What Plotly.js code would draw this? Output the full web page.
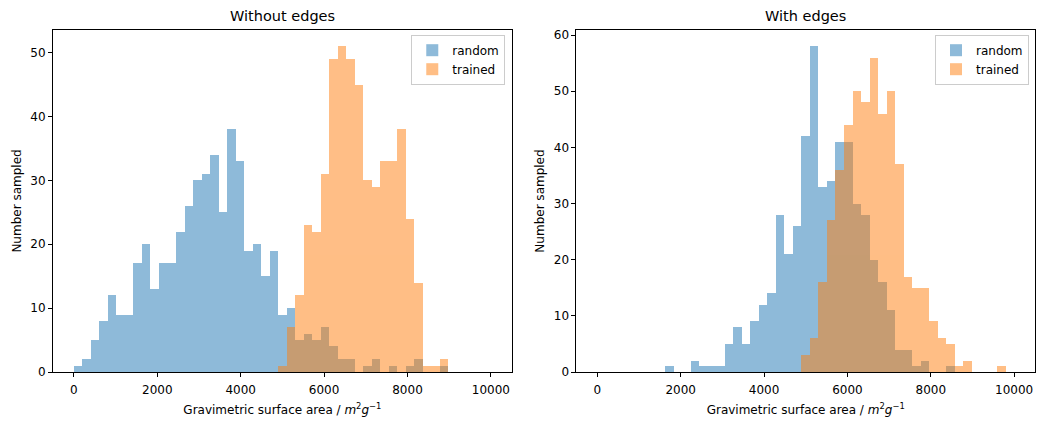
<!DOCTYPE html>
<html>
<head>
<meta charset="utf-8">
<script src="https://cdn.plot.ly/plotly-3.0.1.min.js"></script>
<style>
  html, body { margin: 0; padding: 0; background: #fff; }
  #chart { width: 1039px; height: 421px; }
</style>
</head>
<body>
<div id="chart"></div>
<script>
// ---- data (counts per histogram bin, 49 equal bins spanning 0..10000) ----
const binStart = 0;
const binEnd = 10000;
const binCount = 49;

const noEdgesRandom = [1, 2, 5, 8, 12, 9, 9, 17, 20, 13, 17, 17, 22, 26, 30, 31, 34, 25, 38, 33,
  19, 20, 15, 19, 9, 10, 5, 6, 5, 7, 4, 2, 2, 0, 1, 2, 0, 1, 0, 1, 2, 0, 0, 1, 0, 0, 0, 0, 0];
const noEdgesTrained = [0, 0, 0, 0, 0, 0, 0, 0, 0, 0, 0, 0, 0, 0, 0, 0, 0, 0, 0, 0,
  0, 0, 0, 0, 1, 7, 12, 23, 22, 31, 49, 51, 49, 45, 30, 29, 33, 33, 38, 24, 14, 1, 1, 2, 0, 0, 0, 0, 0];
const edgesRandom = [0, 0, 0, 0, 0, 0, 0, 0, 1, 0, 0, 2, 1, 1, 1, 5, 8, 5, 9, 12,
  14, 28, 21, 26, 42, 58, 33, 34, 41, 41, 30, 28, 20, 16, 11, 4, 4, 1, 2, 0, 0, 1, 0, 0, 0, 0, 0, 0, 0];
const edgesTrained = [0, 0, 0, 0, 0, 0, 0, 0, 0, 0, 0, 0, 0, 0, 0, 0, 0, 0, 0, 0,
  0, 0, 0, 0, 3, 6, 16, 27, 36, 44, 50, 48, 56, 46, 50, 37, 17, 15, 15, 9, 6, 5, 1, 2, 0, 0, 0, 1, 0];

const seriesNames = ["random", "trained"];
const panelTitles = ["Without edges", "With edges"];
const xTickVals = [0, 2000, 4000, 6000, 8000, 10000];
const xTickText = ["0", "2000", "4000", "6000", "8000", "10000"];
const yTickVals = [0, 10, 20, 30, 40, 50, 60];

// ---- derived bin positions ----
const binWidth = (binEnd - binStart) / binCount;
const binLefts = Array.from({ length: binCount }, (_, i) => binStart + i * binWidth);

const BLUE = "#1f77b4";
const ORANGE = "#ff7f0e";
const FONT = "DejaVu Sans, Liberation Sans, sans-serif";

function barTrace(counts, name, color, xa, ya, legend) {
  return {
    type: "bar",
    x: binLefts,
    y: counts,
    width: binWidth,
    offset: 0,
    name: name,
    marker: { color: color, line: { width: 0 } },
    opacity: 0.5,
    xaxis: xa,
    yaxis: ya,
    legend: legend,
    hoverinfo: "skip"
  };
}

const traces = [
  barTrace(noEdgesRandom, seriesNames[0], BLUE, "x", "y", "legend"),
  barTrace(noEdgesTrained, seriesNames[1], ORANGE, "x", "y", "legend"),
  barTrace(edgesRandom, seriesNames[0], BLUE, "x2", "y2", "legend2"),
  barTrace(edgesTrained, seriesNames[1], ORANGE, "x2", "y2", "legend2")
];

const maxLeft = Math.max(...noEdgesRandom, ...noEdgesTrained);
const maxRight = Math.max(...edgesRandom, ...edgesTrained);
const xPad = (binEnd - binStart) * 0.05;

const plotL = 52.8, plotR = 1035.3, plotT = 30.3, plotB = 372.3;
const W = 1039, H = 421;
const pw = plotR - plotL;
const d1 = [0, (511.8 - plotL) / pw];
const d2 = [(576.5 - plotL) / pw, 1];

const xTitle = "Gravimetric surface area / <i>m</i><sup>2</sup><i>g</i><sup>−1</sup>";

function xAxis(domain, anchor) {
  return {
    domain: domain,
    anchor: anchor,
    range: [binStart - xPad, binEnd + xPad],
    tickvals: xTickVals,
    ticktext: xTickText,
    ticks: "outside",
    ticklen: 4,
    tickwidth: 1,
    tickcolor: "#000",
    ticklabelstandoff: 3,
    showline: true,
    linecolor: "#000",
    linewidth: 1,
    mirror: true,
    showgrid: false,
    zeroline: false,
    tickfont: { family: FONT, size: 12, color: "#000" },
    title: { text: xTitle, font: { family: FONT, size: 12, color: "#000" }, standoff: 9 },
    automargin: false
  };
}
function yAxis(maxVal, anchor) {
  return {
    anchor: anchor,
    range: [0, maxVal * 1.05],
    tickvals: yTickVals,
    ticks: "outside",
    ticklen: 4,
    tickwidth: 1,
    tickcolor: "#000",
    showline: true,
    linecolor: "#000",
    linewidth: 1,
    mirror: true,
    showgrid: false,
    zeroline: false,
    tickfont: { family: FONT, size: 12, color: "#000" },
    title: { text: "Number sampled", font: { family: FONT, size: 12, color: "#000" }, standoff: 6 },
    automargin: false
  };
}

function legendAt(xRight) {
  return {
    x: xRight, y: (plotB - 35) / (plotB - plotT),
    xanchor: "right", yanchor: "top",
    xref: "paper", yref: "paper",
    bgcolor: "rgba(255,255,255,0.8)",
    bordercolor: "#cccccc",
    borderwidth: 1,
    font: { family: FONT, size: 12, color: "#000" },
    tracegroupgap: 0,
    itemwidth: 30
  };
}

const layout = {
  width: W,
  height: H,
  margin: { l: plotL, r: W - plotR, t: plotT, b: H - plotB, pad: 0 },
  paper_bgcolor: "#fff",
  plot_bgcolor: "#fff",
  barmode: "overlay",
  bargap: 0,
  showlegend: true,
  font: { family: FONT, size: 12, color: "#000" },
  xaxis: xAxis(d1, "y"),
  yaxis: yAxis(maxLeft, "x"),
  xaxis2: xAxis(d2, "y2"),
  yaxis2: yAxis(maxRight, "x2"),
  legend: legendAt((505.3 - plotL) / pw),
  legend2: legendAt((1029.3 - plotL) / pw),
  annotations: [
    { text: panelTitles[0], x: (d1[0] + d1[1]) / 2, y: 1, xref: "paper", yref: "paper",
      xanchor: "center", yanchor: "bottom", yshift: 4, showarrow: false,
      font: { family: FONT, size: 14.5, color: "#000" } },
    { text: panelTitles[1], x: (d2[0] + d2[1]) / 2, y: 1, xref: "paper", yref: "paper",
      xanchor: "center", yanchor: "bottom", yshift: 4, showarrow: false,
      font: { family: FONT, size: 14.5, color: "#000" } }
  ]
};

Plotly.newPlot("chart", traces, layout, { staticPlot: true, displayModeBar: false });
</script>
</body>
</html>
